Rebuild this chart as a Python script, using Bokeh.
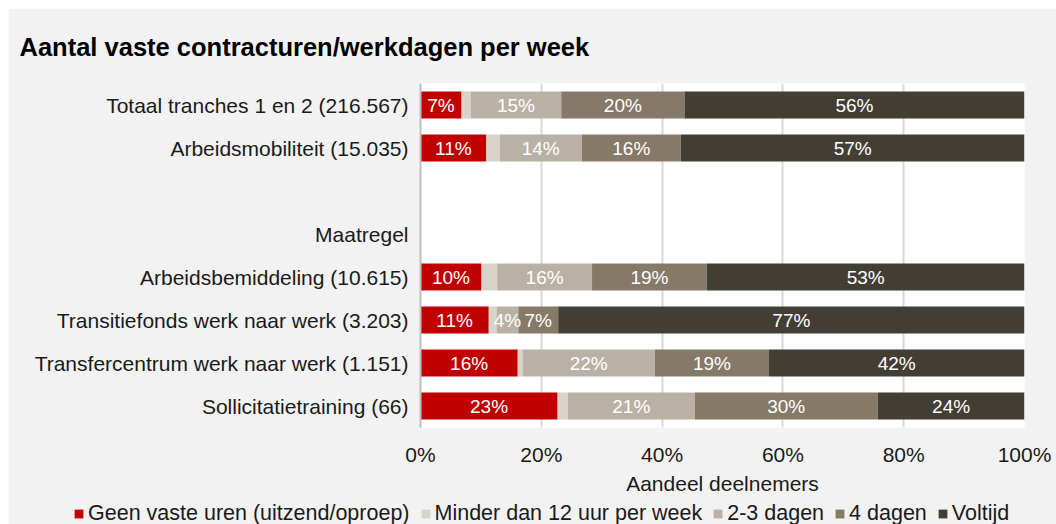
from bokeh.plotting import figure
from bokeh.layouts import column
from bokeh.models import (ColumnDataSource, FactorRange, Range1d, Legend, LegendItem,
                          FixedTicker, Title)
from bokeh.embed import file_html
from bokeh.resources import INLINE
from bokeh.core.properties import value

# ---- data ----
categories = [
    "Totaal tranches 1 en 2 (216.567)",
    "Arbeidsmobiliteit (15.035)",
    " ",
    "Maatregel",
    "Arbeidsbemiddeling (10.615)",
    "Transitiefonds werk naar werk (3.203)",
    "Transfercentrum werk naar werk (1.151)",
    "Sollicitatietraining (66)",
]
geen_vaste_uren = [6.8, 10.9, 0, 0, 10.1, 11.3, 16.1, 22.7]
minder_dan_12 = [1.5, 2.2, 0, 0, 2.6, 1.3, 0.8, 1.7]
dagen_2_3 = [15.0, 13.6, 0, 0, 15.7, 3.6, 21.9, 21.0]
dagen_4 = [20.4, 16.4, 0, 0, 19.0, 6.6, 18.9, 30.3]
voltijd = [56.3, 56.9, 0, 0, 52.6, 77.2, 42.3, 24.3]

series_names = ["Geen vaste uren (uitzend/oproep)", "Minder dan 12 uur per week",
                "2-3 dagen", "4 dagen", "Voltijd"]
series_values = [geen_vaste_uren, minder_dan_12, dagen_2_3, dagen_4, voltijd]
colors = ["#c00000", "#d8d3cb", "#b9b1a5", "#857a67", "#433e34"]

x_ticks = [0, 20, 40, 60, 80, 100]
x_tick_labels = ["0%", "20%", "40%", "60%", "80%", "100%"]

FONT = "Liberation Sans"
BG = "#f2f2f2"
TXT = "#1a1a1a"

# ---- main figure ----
p = figure(width=1048, height=490,
           y_range=FactorRange(factors=list(reversed(categories))),
           x_range=Range1d(0, 100),
           output_backend="svg", toolbar_location=None,
           min_border_left=412, min_border_right=32,
           min_border_top=75, min_border_bottom=71)
p.border_fill_color = BG
p.background_fill_color = "white"
p.outline_line_color = None

keys = ["s%d" % i for i in range(len(series_values))]
data = {"cat": categories}
for k, v in zip(keys, series_values):
    data[k] = v
src = ColumnDataSource(data)
p.hbar_stack(keys, y="cat", height=0.63, color=colors, source=src, line_color=None)

# labels inside segments
lx, ly, lt = [], [], []
for i, c in enumerate(categories):
    left = 0.0
    for vals in series_values:
        v = vals[i]
        if v >= 3:
            lx.append(left + v / 2)
            ly.append(c)
            lt.append("%d%%" % round(v))
        left += v
lab_src = ColumnDataSource(dict(x=lx, y=ly, t=lt))
p.text(x="x", y="y", text="t", source=lab_src, text_align="center",
       text_baseline="middle", text_color="white",
       text_font=value(FONT), text_font_size="19px")

# axes
p.xaxis.ticker = FixedTicker(ticks=x_ticks)
p.xaxis.major_label_overrides = dict(zip(x_ticks, x_tick_labels))
p.xaxis.axis_line_color = None
p.xaxis.major_tick_line_color = None
p.xaxis.minor_tick_line_color = None
p.xaxis.major_label_standoff = 9
p.xaxis.major_label_text_font = FONT
p.xaxis.major_label_text_font_size = "21px"
p.xaxis.major_label_text_color = TXT
p.xaxis.axis_label = "Aandeel deelnemers"
p.xaxis.axis_label_text_font = FONT
p.xaxis.axis_label_text_font_size = "21px"
p.xaxis.axis_label_text_font_style = "normal"
p.xaxis.axis_label_text_color = TXT
p.xaxis.axis_label_standoff = 3

p.yaxis.axis_line_color = "#bfbfbf"
p.yaxis.axis_line_width = 2
p.yaxis.major_tick_line_color = None
p.yaxis.minor_tick_line_color = None
p.yaxis.major_label_standoff = 6
p.yaxis.major_label_text_font = FONT
p.yaxis.major_label_text_font_size = "21px"
p.yaxis.major_label_text_color = TXT

p.xgrid.grid_line_color = "#d9d9d9"
p.xgrid.grid_line_width = 2
p.ygrid.grid_line_color = None

# title
p.title = Title(text="Aantal vaste contracturen/werkdagen per week",
                text_font=FONT, text_font_size="25.5px", text_font_style="bold",
                text_color="#000000", align="left", offset=-401, standoff=42,
                vertical_align="top")

# ---- legend strip (separate figure so it can span the full width) ----
pleg = figure(width=1048, height=27, x_range=Range1d(0, 1), y_range=Range1d(0, 1),
              output_backend="svg", toolbar_location=None,
              min_border_left=0, min_border_right=0, min_border_top=0,
              min_border_bottom=0, margin=(-1, 0, 0, 0))
leg_x = -347
if "frame_align" in pleg.properties():
    pleg.frame_align = False
    leg_x = 65
pleg.axis.visible = False
pleg.grid.visible = False
pleg.outline_line_color = None
pleg.border_fill_color = BG
pleg.background_fill_color = BG
dummy = [pleg.quad(left=[5], right=[6], bottom=[5], top=[6], fill_color=c,
                   line_color=None) for c in colors]
items = [LegendItem(label=n, renderers=[r]) for n, r in zip(series_names, dummy)]
legend = Legend(items=items, orientation="horizontal", location=(leg_x, -2),
                label_text_font=FONT, label_text_font_size="21.5px",
                label_text_color=TXT, label_height=22,
                glyph_width=11, glyph_height=11, label_standoff=4, spacing=10,
                padding=0, margin=0, background_fill_alpha=0,
                border_line_color=None)
pleg.add_layout(legend, "center")

layout = column(p, pleg, spacing=0, margin=(8, 0, 0, 8))

open("out.html", "w").write(file_html(layout, INLINE))
